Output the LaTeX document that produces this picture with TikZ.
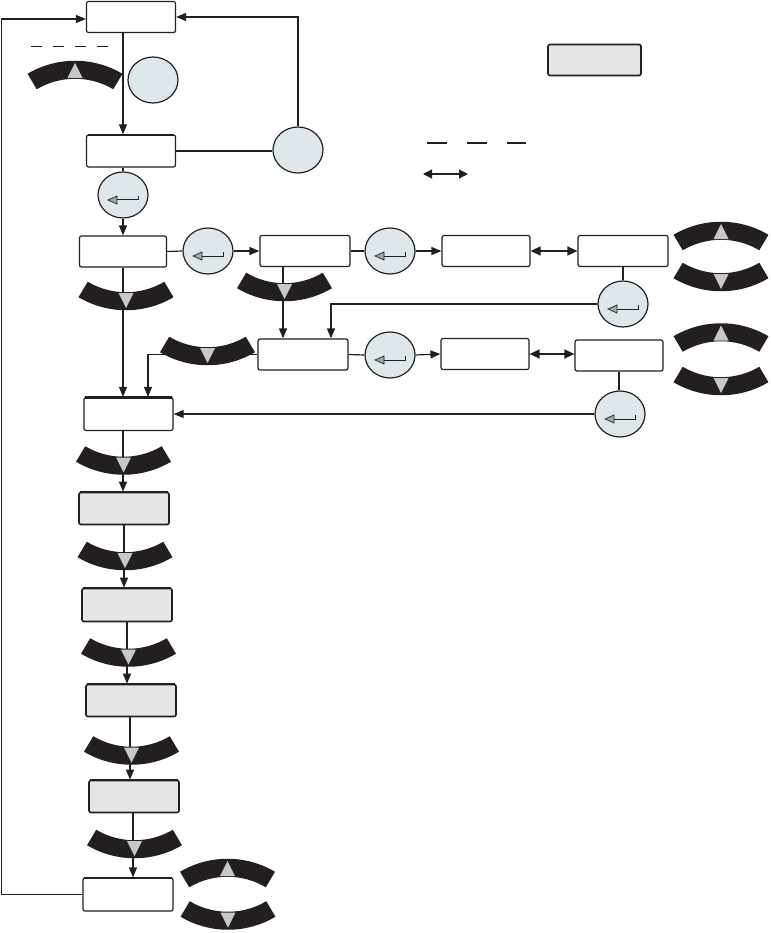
\documentclass[tikz,border=0pt]{standalone}
\usetikzlibrary{shapes.geometric,arrows.meta,calc}
\definecolor{btnblack}{HTML}{231F20}
\definecolor{trigray}{HTML}{C8C8C8}
\definecolor{circfill}{HTML}{DEE7EB}
\definecolor{boxgray}{HTML}{E6E6E6}
\definecolor{ink}{HTML}{231F20}
\tikzset{
  box/.style={draw=ink, line width=1.2pt, rounded corners=2pt, minimum width=#1, minimum height=31pt, inner sep=0pt, fill=white},
  box/.default=89pt,
  graybox/.style={box=#1, fill=boxgray, line width=1.6pt},
  graybox/.default=90pt,
  topedge/.style={ink, line width=2.2pt},
  circ/.style={draw=ink, line width=1.2pt, ellipse, fill=circfill, minimum width=50pt, minimum height=46pt, inner sep=0pt},
  conn/.style={line width=1.2pt, draw=ink},
  arr/.style={conn, -{Triangle[length=10pt,width=8pt]}},
  darr/.style={conn, {Triangle[length=10pt,width=9pt]}-{Triangle[length=10pt,width=9pt]}},
  pics/dnbtn/.style={code={
    \fill[btnblack,shift={(0,-78.75)}] (59.3:93) arc[start angle=59.3,end angle=120.7,radius=93] -- (120.7:75) arc[start angle=120.7,end angle=59.3,radius=75] -- cycle;
    \fill[trigray] (-7.5,-3) -- (7.5,-3) -- (0,12) -- cycle;
  }},
  pics/upbtn/.style={code={
    \fill[btnblack,shift={(0,78.75)}] (-59.3:93) arc[start angle=-59.3,end angle=-120.7,radius=93] -- (-120.7:75) arc[start angle=-120.7,end angle=-59.3,radius=75] -- cycle;
    \fill[trigray] (-7.5,3) -- (7.5,3) -- (0,-12) -- cycle;
  }},
  pics/entersym/.style={code={
    \draw[ink, line width=1pt] (15,1) -- (15,5) -- (-7,5);
    \filldraw[draw=ink, fill=gray!70, line width=0.7pt, line join=miter] (-15,5) -- (-6,1) -- (-6,9) -- cycle;
  }},
}
\begin{document}
\begin{tikzpicture}[x=1pt,y=-1pt]
\useasboundingbox (0,0) rectangle (770,933);
% boxes
\node[box] (A) at (131,17) {};
\node[box, minimum height=32pt] (B) at (131,151) {};
\node[box=87pt] (C) at (123,251.5) {};
\node[box=90pt] (D) at (305,251) {};
\node[box=88pt] (E) at (486,251) {};
\node[box=90pt] (F) at (623,251) {};
\node[box=90pt] (G) at (303,354.5) {};
\node[box=88pt] (I) at (485,354) {};
\node[box=88pt] (J) at (619,355.5) {};
\node[box=89pt, minimum height=33pt] (H) at (128.5,414) {};
\node[graybox, minimum height=32pt] (K) at (124,508.5) {};
\node[graybox, minimum height=33pt] (L) at (127,605) {};
\node[graybox, minimum height=32pt] (M) at (131,700.5) {};
\node[graybox, minimum height=32pt] (N) at (134,796.5) {};
\node[box=90pt, minimum height=33pt] (O) at (128,894.5) {};
\node[graybox=93pt] (leg) at (594.5,60) {};
% heavier top edges (shadowed frames)
\foreach \b in {B,H,O,K,L,M,N} {
  \draw[topedge] ([xshift=2pt,yshift=-0.5pt]\b.north west) -- ([xshift=-2pt,yshift=-0.5pt]\b.north east);
}
% circles
\node[circ] (cTL) at (153,80) {};
\node[circ] (cR) at (298,150) {};
\node[circ] (cB) at (123,195) {};
\node[circ] (c1) at (208,251) {};
\node[circ] (c2) at (390,251) {};
\node[circ] (c3) at (623,304) {};
\node[circ] (c4) at (390,355) {};
\node[circ] (c5) at (620,414) {};
% legend / misc coordinates
\coordinate (d1a) at (31,46); \coordinate (d1b) at (110,46);
\coordinate (d2a) at (427,143); \coordinate (d2b) at (526,143);
\coordinate (l1a) at (423,174); \coordinate (l1b) at (468,174);
% connectors
\draw[arr] ([xshift=-8pt]A.south) -- ([xshift=-8pt]B.north);
\draw[conn] (B.east) -- (B.east -| cR.west);
\draw[arr] (cR.north) |- (A.east);
\draw[arr] (O.west) -- ++(-81,0) |- ([yshift=-2pt]A.west);
\draw[conn] (cB.north |- B.south) -- (cB.north);
\draw[arr] (cB.south) -- (cB.south |- C.north);
\draw[conn] (C.east) -- (c1.west);
\draw[arr] (c1.east) -- (D.west);
\draw[conn] (D.east) -- (c2.west);
\draw[arr] (c2.east) -- (E.west);
\draw[darr] (E.east) -- (F.west);
\draw[conn] (F.south) -- (c3.north);
\draw[arr] (c3.west) -| ([xshift=28pt]G.north);
\draw[arr] ([xshift=-22pt]D.south) -- ([xshift=-22pt]D.south |- G.north);
\draw[arr] (C.south) -- (C.south |- H.north);
\draw[arr] (G.west) -| ([xshift=19.5pt]H.north);
\draw[conn] (G.east) -- (c4.west);
\draw[arr] (c4.east) -- (I.west);
\draw[darr] (I.east) -- (I.east -| J.west);
\draw[conn] (J.south) -- (J.south |- c5.north);
\draw[arr] (c5.west) -- (c5.west -| H.east);
\draw[arr] ([xshift=-5.5pt]H.south) -- ([xshift=-5.5pt]H.south |- K.north);
\draw[arr] (K.south) -- (K.south |- L.north);
\draw[arr] (L.south) -- (L.south |- M.north);
\draw[arr] ([xshift=-1pt]M.south) -- ([xshift=-1pt]M.south |- N.north);
\draw[arr] ([xshift=-1pt]N.south) -- ([xshift=-1pt]N.south |- O.north);
% legend strokes
\draw[ink, line width=0.8pt, dash pattern=on 11pt off 11pt] (d1a) -- (d1b);
\draw[ink, line width=1.5pt, dash pattern=on 20pt off 20pt] (d2a) -- (d2b);
\draw[conn, {Triangle[length=9pt,width=9pt]}-{Triangle[length=9pt,width=9pt]}] (l1a) -- (l1b);
% enter symbols
\foreach \c in {cB,c1,c2,c3,c4,c5} { \pic at (\c) {entersym}; }
% buttons
\pic at (75,75) {upbtn};
\pic at (126,296) {dnbtn};
\pic at (284.5,287) {dnbtn};
\pic at (207.5,351) {dnbtn};
\pic at (721,236) {upbtn};
\pic at (721,277) {dnbtn};
\pic at (721,337.5) {upbtn};
\pic at (721,381) {dnbtn};
\pic at (123.5,460.5) {dnbtn};
\pic at (125,556) {dnbtn};
\pic at (128.5,652.5) {dnbtn};
\pic at (131.5,750.5) {dnbtn};
\pic at (134.5,844) {dnbtn};
\pic at (227.5,873) {upbtn};
\pic at (228,915.5) {dnbtn};
\end{tikzpicture}
\end{document}
